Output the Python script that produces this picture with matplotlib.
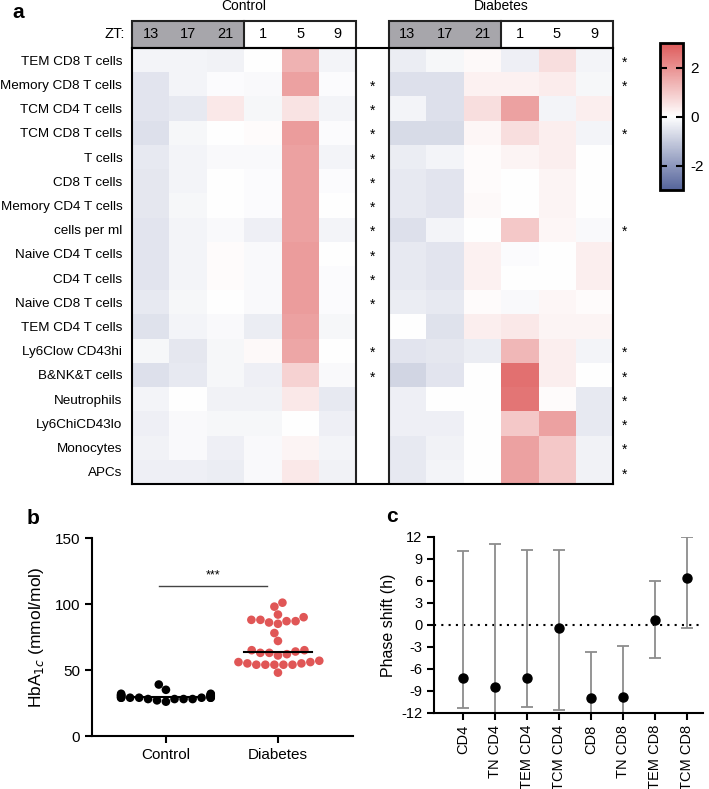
import numpy as np
import matplotlib
matplotlib.use("Agg")
import matplotlib.pyplot as plt
import seaborn as sns
from matplotlib.colors import LinearSegmentedColormap
from matplotlib.patches import Rectangle

plt.rcParams['font.family'] = ['Liberation Sans', 'DejaVu Sans']
plt.rcParams['axes.unicode_minus'] = False

# ---- panel a data ----
cell_types = ["TEM CD8 T cells", "Memory CD8 T cells", "TCM CD4 T cells", "TCM CD8 T cells",
              "T cells", "CD8 T cells", "Memory CD4 T cells", "cells per ml",
              "Naive CD4 T cells", "CD4 T cells", "Naive CD8 T cells", "TEM CD4 T cells",
              "Ly6Clow CD43hi", "B&NK&T cells", "Neutrophils", "Ly6ChiCD43lo",
              "Monocytes", "APCs"]
zt_labels = ["13", "17", "21", "1", "5", "9"]

control = np.array([
    [-0.2, -0.2, -0.25, 0.0, 1.4, -0.2],
    [-0.5, -0.2, -0.05, -0.1, 1.7, -0.05],
    [-0.5, -0.4, 0.4, -0.15, 0.5, -0.2],
    [-0.6, -0.15, 0.0, 0.05, 1.8, -0.05],
    [-0.4, -0.2, -0.1, -0.1, 1.7, -0.2],
    [-0.45, -0.2, 0.0, -0.05, 1.7, -0.05],
    [-0.45, -0.15, 0.0, -0.05, 1.7, 0.0],
    [-0.5, -0.2, -0.1, -0.3, 1.7, -0.2],
    [-0.5, -0.2, 0.05, -0.1, 1.8, 0.0],
    [-0.5, -0.2, 0.05, -0.1, 1.8, -0.05],
    [-0.4, -0.15, 0.0, -0.1, 1.8, -0.05],
    [-0.55, -0.2, -0.1, -0.35, 1.7, -0.15],
    [-0.15, -0.45, -0.15, 0.1, 1.6, 0.0],
    [-0.6, -0.4, -0.15, -0.3, 0.8, -0.1],
    [-0.2, 0.0, -0.25, -0.25, 0.4, -0.4],
    [-0.3, -0.1, -0.15, -0.15, 0.0, -0.3],
    [-0.25, -0.1, -0.3, -0.1, 0.2, -0.2],
    [-0.3, -0.3, -0.35, -0.1, 0.4, -0.25],
])
diabetes = np.array([
    [-0.35, -0.15, 0.1, -0.3, 0.6, -0.2],
    [-0.6, -0.6, 0.25, 0.25, 0.35, -0.15],
    [-0.2, -0.6, 0.6, 1.7, -0.2, 0.3],
    [-0.7, -0.7, 0.15, 0.6, 0.3, -0.2],
    [-0.35, -0.2, 0.05, 0.2, 0.3, 0.0],
    [-0.4, -0.5, 0.05, 0.0, 0.2, 0.0],
    [-0.4, -0.5, 0.1, 0.0, 0.2, 0.0],
    [-0.6, -0.2, 0.0, 1.0, 0.15, -0.1],
    [-0.4, -0.5, 0.25, -0.05, 0.0, 0.3],
    [-0.4, -0.5, 0.25, 0.0, 0.0, 0.3],
    [-0.35, -0.4, 0.05, -0.1, 0.15, 0.05],
    [0.0, -0.55, 0.3, 0.4, 0.2, 0.2],
    [-0.5, -0.45, -0.35, 1.3, 0.3, -0.2],
    [-0.8, -0.5, 0.0, 2.6, 0.3, 0.0],
    [-0.3, 0.0, 0.0, 2.5, 0.05, -0.4],
    [-0.3, -0.3, 0.0, 1.0, 1.7, -0.4],
    [-0.4, -0.25, 0.0, 1.7, 1.0, -0.25],
    [-0.4, -0.2, 0.0, 1.7, 1.0, -0.25],
])
control_sig = [1, 2, 3, 4, 5, 6, 7, 8, 9, 10, 12, 13]
diabetes_sig = [0, 1, 3, 7, 12, 13, 14, 15, 16, 17]

# ---- panel b data ----
hba1c_control = [35, 29, 32, 31, 31, 26, 31, 29, 39, 28, 30, 27, 29, 31, 29, 28,
                 30, 28, 29, 29, 30, 31, 30, 29, 32, 28]
hba1c_diabetes = [86, 87, 101, 98, 90, 88, 88, 92, 85, 87, 78, 72, 63, 62, 61, 65,
                  64, 65, 63, 55, 56, 54, 54, 54, 54, 56, 54, 55, 57, 48]

# ---- panel c data ----
subsets = ["CD4", "TN CD4", "TEM CD4", "TCM CD4", "CD8", "TN CD8", "TEM CD8", "TCM CD8"]
phase = [-7.2, -8.4, -7.25, -0.35, -9.9, -9.8, 0.7, 6.4]
ci_high = [10.1, 11.0, 10.2, 10.2, -3.7, -2.8, 6.0, 12.0]
ci_low = [-11.3, -13.0, -11.2, -11.6, -13.0, -13.0, -4.5, -0.4]

W, H = 709, 789
fig = plt.figure(figsize=(W / 100, H / 100), dpi=100)

def fax(l, t, r, b):
    return fig.add_axes([l / W, 1 - b / H, (r - l) / W, (b - t) / H])

cmap = LinearSegmentedColormap.from_list("bwr2", ["#55649b", "#ffffff", "#de5a5a"])

# ---------- panel a ----------
gap = 0.86
x0d = 6 + gap
ax = fax(132, 48, 613, 484)
im = ax.imshow(control, cmap=cmap, vmin=-3, vmax=3, extent=(0, 6, 18, 0), aspect='auto',
               interpolation='nearest')
ax.imshow(diabetes, cmap=cmap, vmin=-3, vmax=3, extent=(x0d, x0d + 6, 18, 0), aspect='auto',
          interpolation='nearest')
ax.set_xlim(0, x0d + 6)
ax.set_ylim(18, 0)
ax.set_xticks([])
ax.set_yticks(np.arange(18) + 0.5)
ax.set_yticklabels(cell_types, fontsize=9.7)
ax.tick_params(axis='y', length=0, pad=7)
for s in ax.spines.values():
    s.set_linewidth(1.5)

hh = 1.12
lw = 1.5
for x_start in (0, x0d):
    ax.add_patch(Rectangle((x_start, -hh), 3, hh, facecolor='#a7a6ab', edgecolor='none', clip_on=False))
    ax.add_patch(Rectangle((x_start, -hh), 6, hh, facecolor='none', edgecolor='#222222', lw=lw, clip_on=False))
    ax.plot([x_start + 3, x_start + 3], [-hh, 0], color='#222222', lw=lw, clip_on=False)
    for j, lab in enumerate(zt_labels):
        ax.text(x_start + j + 0.5, -hh / 2, lab, ha='center', va='center', fontsize=10.5, clip_on=False)
ax.plot([6, 6], [0, 18], color='#222222', lw=lw)
ax.plot([x0d, x0d], [0, 18], color='#222222', lw=lw)
ax.text(-0.2, -hh / 2, "ZT:", ha='right', va='center', fontsize=10.5)
ax.text(3, -1.75, "Control", ha='center', va='center', fontsize=10)
ax.text(x0d + 3, -1.75, "Diabetes", ha='center', va='center', fontsize=10)
for r in control_sig:
    ax.text(6 + gap / 2, r + 0.6, "*", ha='center', va='center', fontsize=10)
for r in diabetes_sig:
    ax.text(x0d + 6.3, r + 0.6, "*", ha='center', va='center', fontsize=10, clip_on=False)
fig.text(12 / W, 1 - 12 / H, "a", fontsize=15, fontweight='bold', ha='left', va='center')

cax = fax(660, 43, 683, 190)
cb = fig.colorbar(im, cax=cax, ticks=[-2, 0, 2])
cb.outline.set_linewidth(2)
cax.tick_params(direction='in', left=True, right=True, length=5, width=1.5, labelsize=11, pad=5)

# ---------- panel b ----------
axb = fax(92, 538, 353, 736)
groups = ["Control"] * len(hba1c_control) + ["Diabetes"] * len(hba1c_diabetes)
vals = hba1c_control + hba1c_diabetes
sns.swarmplot(x=groups, y=vals, hue=groups, palette={"Control": "black", "Diabetes": "#e05656"},
              size=6.2, ax=axb, legend=False)
for i, d in enumerate([hba1c_control, hba1c_diabetes]):
    axb.plot([i - 0.3, i + 0.3], [np.median(d)] * 2, color='black', lw=1.5, zorder=0.5 if i == 0 else 3)
axb.plot([-0.06, 0.9], [114, 114], color='#444444', lw=1)
axb.text(0.42, 117, "***", ha='center', va='bottom', fontsize=9)
axb.set_xlim(-0.66, 1.67)
axb.set_ylim(0, 150)
axb.set_yticks([0, 50, 100, 150])
axb.set_ylabel("HbA$_{1c}$ (mmol/mol)", fontsize=12.5, labelpad=6)
for s in ("top", "right"):
    axb.spines[s].set_visible(False)
for s in ("left", "bottom"):
    axb.spines[s].set_linewidth(1.5)
axb.tick_params(width=1.5, length=5, labelsize=11)
fig.text(27 / W, 1 - 518 / H, "b", fontsize=15, fontweight='bold', ha='left', va='center')

# ---------- panel c ----------
axc = fax(434, 537, 703, 713)
xs = np.arange(len(subsets))
yerr = [np.array(phase) - np.array(ci_low), np.array(ci_high) - np.array(phase)]
axc.errorbar(xs, phase, yerr=yerr, fmt='o', color='black', ms=6.5, ecolor='#8c8c8c',
             elinewidth=1.3, capsize=4, capthick=1.3)
axc.axhline(0, color='black', ls=(0, (1, 2.5)), lw=1.5, zorder=0)
axc.set_xlim(-0.9, 7.5)
axc.set_ylim(-12, 12)
axc.set_yticks(np.arange(-12, 13, 3))
axc.set_xticks(xs)
axc.set_xticklabels(subsets, rotation=90, fontsize=10.5)
axc.set_ylabel("Phase shift (h)", fontsize=11.5)
for s in ("top", "right"):
    axc.spines[s].set_visible(False)
for s in ("left", "bottom"):
    axc.spines[s].set_linewidth(1.5)
axc.tick_params(width=1.5, length=5, labelsize=10.5)
fig.text(386 / W, 1 - 516 / H, "c", fontsize=15, fontweight='bold', ha='left', va='center')

fig.savefig("out.png", dpi=100)
